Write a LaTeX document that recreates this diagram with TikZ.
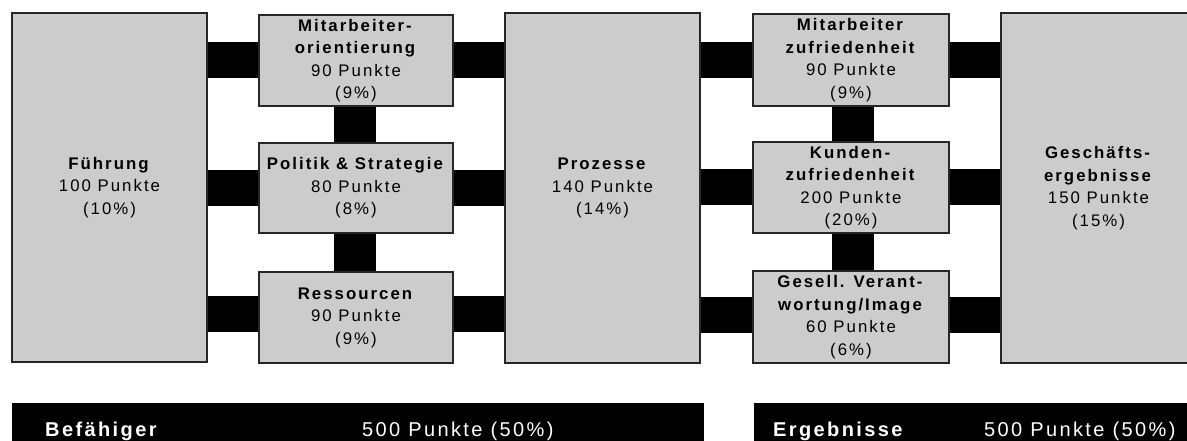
\documentclass[tikz,border=0pt]{standalone}
\usepackage{fontspec}
\setmainfont{Liberation Sans}[LetterSpace=12]
\definecolor{boxgray}{RGB}{204,204,204}
\newcommand\myboxfont{\fontsize{16.8}{22.5}\selectfont}
\newcommand\mybarfont{\fontsize{20}{24}\selectfont}
\begin{document}
\begin{tikzpicture}[x=1pt,y=-1pt,
  box/.style={draw=black!85, line width=1.2pt, fill=boxgray, inner sep=0pt,
    align=center, font=\myboxfont, text=black},
  conn/.style={line width=36pt, draw=black},
  vconn/.style={line width=42pt, draw=black},
  bar/.style={fill=black, draw=none, inner sep=0pt, anchor=north west},
  bartext/.style={text=white, font=\mybarfont, inner sep=0pt, anchor=base west}]
\useasboundingbox (0,0) rectangle (1187,441);
\clip (0,0) rectangle (1187,441);

% big boxes
\node[box, minimum width=195pt, minimum height=349pt] (fu) at (109.5,187.5)
  {\textbf{Führung}\\100 Punkte\\(10\%)};
\node[box, minimum width=195pt, minimum height=350pt] (pr) at (602.5,188)
  {\textbf{Prozesse}\\140 Punkte\\(14\%)};
\node[box, minimum width=195pt, minimum height=350pt] (ge) at (1098.5,188)
  {\textbf{Geschäfts-}\\\textbf{ergebnisse}\\150 Punkte\\(15\%)};

% left column
\node[box, minimum width=194pt, minimum height=91pt] (mo) at (356,60.5)
  {\textbf{Mitarbeiter-}\\\textbf{orientierung}\\90 Punkte\\(9\%)};
\node[box, minimum width=194pt, minimum height=90pt] (ps) at (356,188)
  {\textbf{Politik \& Strategie}\\80 Punkte\\(8\%)};
\node[box, minimum width=194pt, minimum height=91pt] (res) at (356,317.5)
  {\textbf{Ressourcen}\\90 Punkte\\(9\%)};

% right column
\node[box, minimum width=196pt, minimum height=92pt] (mz) at (851,60)
  {\textbf{Mitarbeiter}\\\textbf{zufriedenheit}\\90 Punkte\\(9\%)};
\node[box, minimum width=196pt, minimum height=91pt] (kz) at (851,187.5)
  {\textbf{Kunden-}\\\textbf{zufriedenheit}\\200 Punkte\\(20\%)};
\node[box, minimum width=196pt, minimum height=92pt] (gv) at (851,317)
  {\textbf{Gesell. Verant-}\\\textbf{wortung/Image}\\60 Punkte\\(6\%)};

% horizontal connectors
\draw[conn] (mo.west) -- (mo.west -| fu.east);
\draw[conn] (mo.east) -- (mo.east -| pr.west);
\draw[conn] (ps.west) -- (ps.west -| fu.east);
\draw[conn] (ps.east) -- (ps.east -| pr.west);
\draw[conn] ([yshift=3.5pt]res.west) -- ([yshift=3.5pt]res.west -| fu.east);
\draw[conn] ([yshift=3.5pt]res.east) -- ([yshift=3.5pt]res.east -| pr.west);
\draw[conn] (mz.west) -- (mz.west -| pr.east);
\draw[conn] (mz.east) -- (mz.east -| ge.west);
\draw[conn] (kz.west) -- (kz.west -| pr.east);
\draw[conn] (kz.east) -- (kz.east -| ge.west);
\draw[conn] ([yshift=2.5pt]gv.west) -- ([yshift=2.5pt]gv.west -| pr.east);
\draw[conn] ([yshift=2.5pt]gv.east) -- ([yshift=2.5pt]gv.east -| ge.west);

% vertical connectors
\draw[vconn] ([xshift=-1pt]mo.south) -- ([xshift=-1pt]ps.north);
\draw[vconn] ([xshift=-1pt]ps.south) -- ([xshift=-1pt]res.north);
\draw[vconn] ([xshift=2pt]mz.south) -- ([xshift=2pt]kz.north);
\draw[vconn] ([xshift=2pt]kz.south) -- ([xshift=2pt]gv.north);

% bottom bars
\node[bar, minimum width=692pt, minimum height=60pt] (bef) at (12,403) {};
\node[bar, minimum width=460pt, minimum height=60pt] (erg) at (754,403) {};
\node[bartext] (beft) at (45,436) {\textbf{Befähiger}};
\node[bartext] (befp) at (362,436) {500 Punkte (50\%)};
\node[bartext] (ergt) at (773,436) {\textbf{Ergebnisse}};
\node[bartext] (ergp) at (984,436) {500 Punkte (50\%)};
\end{tikzpicture}
\end{document}
